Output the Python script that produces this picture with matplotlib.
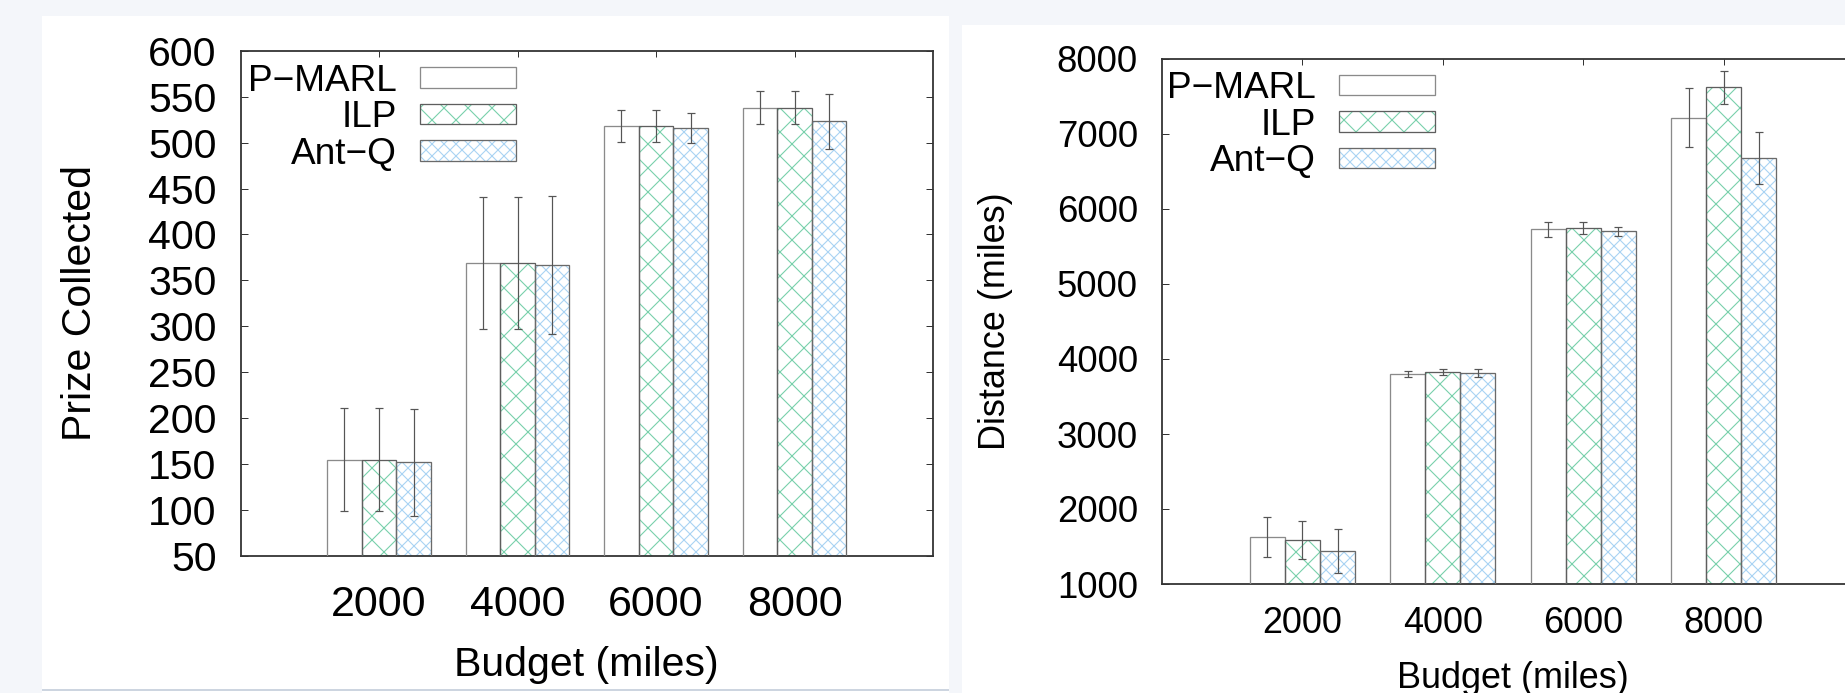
#!/usr/bin/env python3
"""Prize collected and distance travelled per budget, P-MARL vs ILP vs Ant-Q."""

import matplotlib

matplotlib.use("Agg")

import matplotlib.pyplot as plt
import numpy as np
from matplotlib.legend_handler import HandlerTuple
from matplotlib.patches import Patch, Rectangle

budgets = ["2000", "4000", "6000", "8000"]
methods = ["P\u2212MARL", "ILP", "Ant\u2212Q"]

prize_pmarl = [155, 369, 518, 538]
prize_pmarl_err = [56, 72, 17, 18]
prize_ilp = [155, 369, 518, 538]
prize_ilp_err = [56, 72, 17, 18]
prize_antq = [152, 367, 516, 523]
prize_antq_err = [58, 75, 16, 30]

dist_pmarl = [1624, 3804, 5729, 7217]
dist_pmarl_err = [265, 41, 104, 393]
dist_ilp = [1589, 3822, 5747, 7622]
dist_ilp_err = [253, 41, 84, 222]
dist_antq = [1442, 3810, 5703, 6680]
dist_antq_err = [297, 50, 62, 343]

BG = "#f4f6fa"
SPINE = "#333333"
ERR = "#555555"
# (hatch colour, hatch pattern, outline colour) per method
STYLES = [("white", None, "#8a8a8a"), ("#78d0ab", "x", "#5e5e5e"), ("#a9d3f3", "xx", "#6a6a6a")]
DPI = 72

plt.rcParams["font.family"] = ["Liberation Sans", "DejaVu Sans"]
plt.rcParams["hatch.linewidth"] = 1.1


def draw_panel(ax, series, errors, ylim, yticks, ylabel, sizes, pads, legend_anchor):
    ytick_fs, xtick_fs, label_fs, legend_fs = sizes
    xtick_pad, xlabel_pad, ylabel_pad = pads
    x = np.arange(len(budgets))
    width = 0.25
    handles = []
    for i, (vals, errs) in enumerate(zip(series, errors)):
        color, hatch, edge = STYLES[i]
        pos = x + (i - 1) * width
        ax.bar(pos, vals, width, color="white", edgecolor=color, linewidth=0, hatch=hatch, zorder=2)
        ax.bar(pos, vals, width, fill=False, edgecolor=edge, linewidth=1.3, zorder=3,
               yerr=errs, error_kw=dict(ecolor=ERR, elinewidth=1.2, capsize=4, capthick=1.2, zorder=4))
        handles.append((Patch(facecolor="white", edgecolor=color, linewidth=0, hatch=hatch),
                        Patch(fill=False, edgecolor=edge, linewidth=1.3)))

    ax.set_xlim(-1, len(budgets))
    ax.set_ylim(*ylim)
    ax.set_yticks(yticks)
    ax.set_xticks(x)
    ax.set_xticklabels(budgets)
    ax.tick_params(axis="y", direction="in", length=7, width=1, color=SPINE, left=True, right=True,
                   labelsize=ytick_fs, pad=24)
    ax.tick_params(axis="x", direction="in", length=6, width=1, color=SPINE, bottom=False, top=True,
                   labelsize=xtick_fs, pad=xtick_pad)
    for sp in ax.spines.values():
        sp.set_color(SPINE)
        sp.set_linewidth(1.8)
    ax.set_xlabel("Budget (miles)", fontsize=label_fs, labelpad=xlabel_pad)
    ax.set_ylabel(ylabel, fontsize=label_fs, labelpad=ylabel_pad)

    ax.legend(handles, methods, handler_map={tuple: HandlerTuple(ndivide=1)},
              loc="upper right", bbox_to_anchor=legend_anchor, frameon=False, markerfirst=False,
              fontsize=legend_fs, handlelength=2.6, handleheight=0.48, handletextpad=0.62,
              labelspacing=0.04, borderpad=0, borderaxespad=0)


def main():
    fig = plt.figure(figsize=(1845 / DPI, 693 / DPI), dpi=DPI, facecolor=BG)

    # white card behind each panel
    W, H = 1845, 693
    fig.patches.append(Rectangle((42 / W, 0), (949 - 42) / W, (H - 16) / H, transform=fig.transFigure,
                                 facecolor="white", edgecolor="none", zorder=-2))
    fig.patches.append(Rectangle((42 / W, 2 / H), (949 - 42) / W, 2 / H, transform=fig.transFigure,
                                 facecolor="#cdd5e0", edgecolor="none", zorder=-1))
    fig.patches.append(Rectangle((962 / W, 0), (W - 962) / W, (H - 25) / H, transform=fig.transFigure,
                                 facecolor="white", edgecolor="none", zorder=-2))

    ax1 = fig.add_axes([240.6 / W, (H - 556) / H, (933 - 240.6) / W, (556 - 50.7) / H])
    draw_panel(ax1, [prize_pmarl, prize_ilp, prize_antq],
               [prize_pmarl_err, prize_ilp_err, prize_antq_err],
               (50, 600), np.arange(50, 601, 50), "Prize Collected",
               (41, 43, 41, 37), (29, 21, 49), (0.398, 0.974))

    ax2 = fig.add_axes([1162 / W, (H - 584) / H, (1864 - 1162) / W, (584 - 59) / H])
    draw_panel(ax2, [dist_pmarl, dist_ilp, dist_antq],
               [dist_pmarl_err, dist_ilp_err, dist_antq_err],
               (1000, 8000), np.arange(1000, 8001, 1000), "Distance (miles)",
               (36.5, 36, 36, 37), (22, 20, 44), (0.389, 0.977))

    fig.savefig("out.png", dpi=DPI, facecolor=BG)
    plt.close(fig)


if __name__ == "__main__":
    main()
